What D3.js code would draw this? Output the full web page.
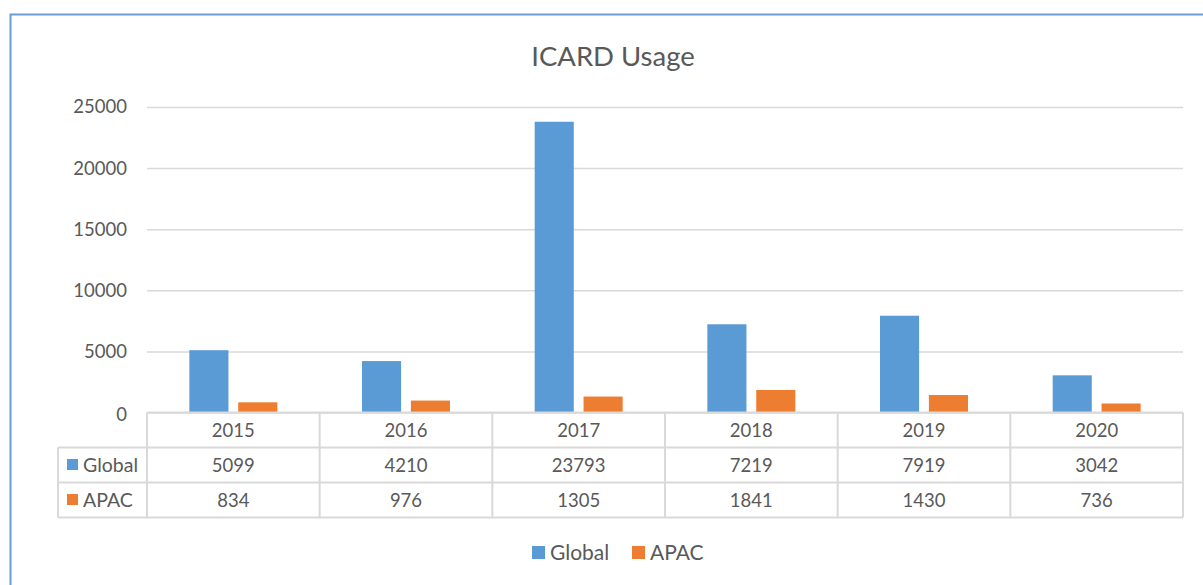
<!DOCTYPE html>
<html>
<head>
<meta charset="utf-8">
<script src="https://cdn.jsdelivr.net/npm/d3@7"></script>
<style>
  html, body { margin: 0; padding: 0; background: #fff; }
  svg { display: block; font-family: Lato, "Open Sans", sans-serif; }
</style>
</head>
<body>
<div id="chart"></div>
<script>
// chart data
const years = ["2015", "2016", "2017", "2018", "2019", "2020"];
const seriesNames = ["Global", "APAC"];
const globalValues = [5099, 4210, 23793, 7219, 7919, 3042];
const apacValues = [834, 976, 1305, 1841, 1430, 736];
const yTicks = [0, 5000, 10000, 15000, 20000, 25000];
const colors = ["#5B9BD5", "#ED7D31"];

const W = 1203, H = 585;
const margin = { top: 107, left: 147, right: 20, bottom: 172 };
const plotRight = 1183;
const plotBottom = 412.5;
const textColor = "#595959";
const gridColor = "#D9D9D9";

const svg = d3.select("#chart").append("svg")
    .attr("width", W)
    .attr("height", H);

// outer chart frame
svg.append("rect")
    .attr("x", 10.5).attr("y", 14.5)
    .attr("width", W + 20).attr("height", H + 20)
    .attr("fill", "none")
    .attr("stroke", "#6C9BD6")
    .attr("stroke-width", 2);

svg.append("text")
    .attr("x", 613).attr("y", 66)
    .attr("text-anchor", "middle")
    .attr("fill", textColor)
    .style("font-size", "27.5px")
    .text("ICARD Usage");

const x0 = d3.scaleBand()
    .domain(years)
    .range([margin.left, plotRight]);

const groupW = 88;
const x1 = d3.scaleBand()
    .domain(seriesNames)
    .range([(x0.bandwidth() - groupW) / 2, (x0.bandwidth() + groupW) / 2])
    .paddingInner(0.2);

const y = d3.scaleLinear()
    .domain([0, 25000])
    .range([plotBottom, margin.top]);

// gridlines + y labels
const yAxis = svg.append("g")
    .attr("transform", `translate(${margin.left},0)`)
    .call(d3.axisLeft(y).tickValues(yTicks).tickSize(-(plotRight - margin.left)).tickPadding(20).tickFormat(d3.format("d")));
yAxis.select(".domain").remove();
yAxis.selectAll(".tick line").attr("stroke", gridColor).attr("stroke-width", 1.5);
yAxis.selectAll(".tick text")
    .attr("fill", textColor)
    .style("font-size", "18.5px")
    .style("font-family", "Lato, sans-serif");
yAxis.selectAll(".tick")
    .filter(d => d === 0)
    .select("text").attr("dy", "0.42em");

// bars
const rows = seriesNames.map((name, i) => ({
    name: name,
    values: i === 0 ? globalValues : apacValues
}));

rows.forEach((s, si) => {
    svg.append("g").selectAll("rect")
        .data(years)
        .join("rect")
        .attr("x", (d) => x0(d) + x1(s.name))
        .attr("y", (d, i) => y(s.values[i]))
        .attr("width", x1.bandwidth())
        .attr("height", (d, i) => y(0) - y(s.values[i]))
        .attr("fill", colors[si]);
});

// data table
const rowH = 35;
const tableTop = plotBottom;
const tableLeft = 58;
const table = svg.append("g")
    .attr("stroke", gridColor)
    .attr("stroke-width", 2)
    .attr("fill", "none");

// horizontal lines
table.append("line").attr("x1", margin.left).attr("x2", plotRight).attr("y1", tableTop).attr("y2", tableTop);
[1, 2, 3].forEach(r => {
    table.append("line")
        .attr("x1", tableLeft).attr("x2", plotRight)
        .attr("y1", tableTop + r * rowH).attr("y2", tableTop + r * rowH);
});
// vertical lines
table.append("line").attr("x1", tableLeft).attr("x2", tableLeft)
    .attr("y1", tableTop + rowH).attr("y2", tableTop + 3 * rowH);
years.concat(["end"]).forEach((yr, i) => {
    const xx = i < years.length ? x0(yr) : plotRight;
    table.append("line").attr("x1", xx).attr("x2", xx)
        .attr("y1", tableTop).attr("y2", tableTop + 3 * rowH);
});

const cellText = svg.append("g")
    .attr("fill", textColor)
    .style("font-size", "18.5px");

years.forEach(yr => {
    cellText.append("text")
        .attr("x", x0(yr) + x0.bandwidth() / 2)
        .attr("y", tableTop + rowH / 2 + 7)
        .attr("text-anchor", "middle")
        .text(yr);
});

rows.forEach((s, si) => {
    const cy = tableTop + (si + 1) * rowH + rowH / 2;
    svg.append("rect")
        .attr("x", 67).attr("y", cy - 6)
        .attr("width", 11).attr("height", 11)
        .attr("fill", colors[si]);
    cellText.append("text")
        .attr("x", 83).attr("y", cy + 7)
        .style("font-size", "19.5px")
        .text(s.name);
    years.forEach((yr, i) => {
        cellText.append("text")
            .attr("x", x0(yr) + x0.bandwidth() / 2)
            .attr("y", cy + 7)
            .attr("text-anchor", "middle")
            .text(s.values[i]);
    });
});

// legend
const legendX = [532, 632];
const legend = svg.append("g");
seriesNames.forEach((name, i) => {
    legend.append("rect")
        .attr("x", legendX[i]).attr("y", 546)
        .attr("width", 13).attr("height", 13)
        .attr("fill", colors[i]);
    legend.append("text")
        .attr("x", legendX[i] + 18).attr("y", 560)
        .attr("fill", textColor)
        .style("font-size", "21px")
        .text(name);
});
</script>
</body>
</html>
